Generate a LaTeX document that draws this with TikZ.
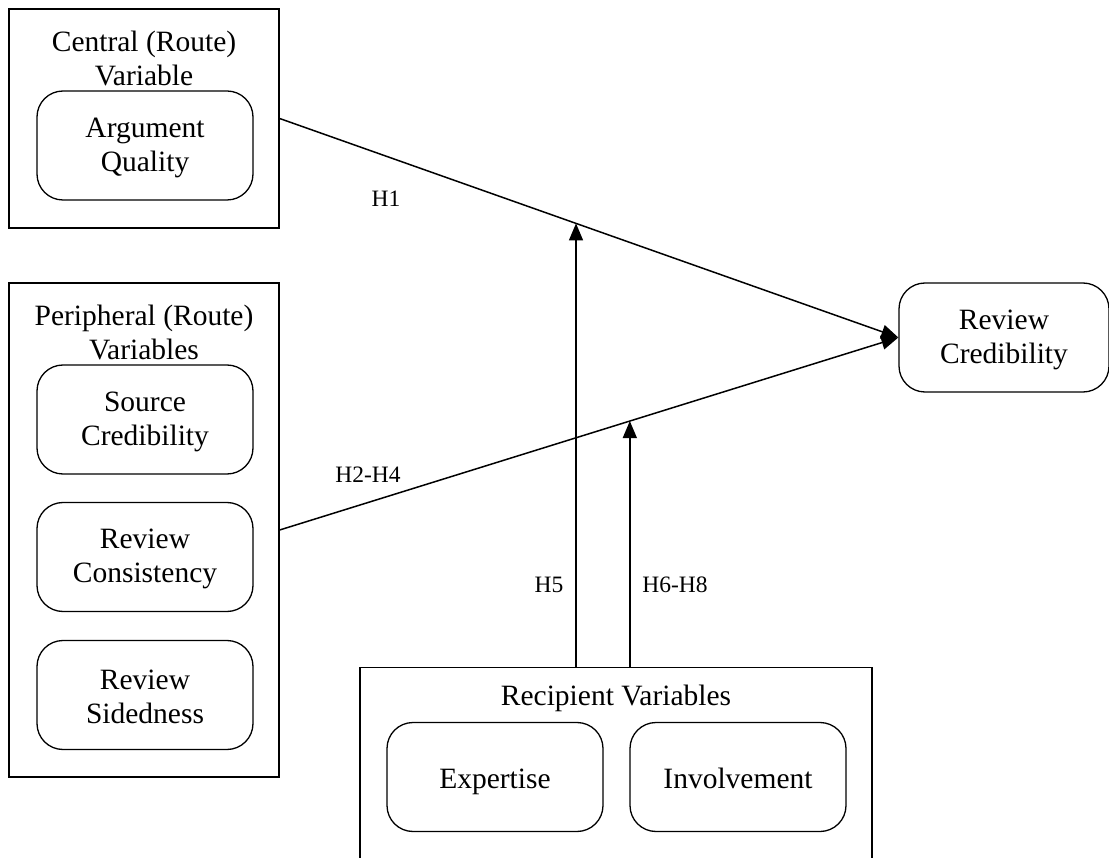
\documentclass[tikz,border=0pt]{standalone}
\usepackage{fontspec}
\setmainfont{Liberation Serif}
\usetikzlibrary{arrows.meta,calc}
\begin{document}
\begin{tikzpicture}[x=1pt,y=-1pt,
  group/.style={draw, line width=1.3pt, minimum width=270pt},
  var/.style={draw, line width=1.3pt, rounded corners=26pt, align=center,
    minimum width=216pt, minimum height=109pt, inner sep=0pt,
    font=\fontsize{29.5}{34}\selectfont},
  twoline/.style={text height=58pt},
  oneline/.style={text height=22pt, text depth=0pt},
  title/.style={align=center, inner sep=0pt, font=\fontsize{29.5}{34}\selectfont},
  hyp/.style={inner sep=0pt, font=\fontsize{23.5}{28}\selectfont},
  link/.style={line width=1.5pt, -{Triangle[length=17pt,width=14pt]}}]
  \clip (0,0) rectangle (1109,858);

  % central route
  \node[group, minimum height=219pt] (central) at (144,118.5) {};
  \node[title] (centralT) at (144,58.5) {Central (Route)\\Variable};
  \node[var, twoline] (aq) at (145,145.5) {Argument\\Quality};

  % peripheral route
  \node[group, minimum height=494pt] (periph) at (144,530) {};
  \node[title] (periphT) at (144,332) {Peripheral (Route)\\Variables};
  \node[var, twoline] (sc) at (145,419.5) {Source\\Credibility};
  \node[var, twoline] (rcons) at (145,557) {Review\\Consistency};
  \node[var, twoline] (rs) at (145,695) {Review\\Sidedness};

  % outcome
  \node[var, twoline, minimum width=210pt] (rc) at (1004,337.5) {Review\\Credibility};

  % recipient variables (box runs past the lower edge)
  \node[draw, line width=1.3pt, minimum width=512pt, minimum height=260pt,
    anchor=north] (recip) at (616,667) {};
  \node[title] (recipT) at (616,698) {Recipient Variables};
  \node[var, oneline] (exp) at (495,777) {Expertise};
  \node[var, oneline] (inv) at (738,777) {Involvement};

  % main effects
  \draw[link] (central.east) -- (rc.west);
  \draw[link] (periph.east) -- (rc.west);

  % moderation points on the main paths
  \coordinate (m1) at ($(central.east)!0.479!(rc.west)$);
  \coordinate (m2) at ($(periph.east)!0.566!(rc.west)$);
  \draw[link] (m1 |- recip.north) -- (m1);
  \draw[link] (m2 |- recip.north) -- (m2);

  % hypothesis labels
  \node[hyp] (h1) at (386,199) {H1};
  \node[hyp] (h2) at (368,475) {H2-H4};
  \node[hyp] (h5) at (549,585) {H5};
  \node[hyp] (h6) at (675,585) {H6-H8};
\end{tikzpicture}
\end{document}
